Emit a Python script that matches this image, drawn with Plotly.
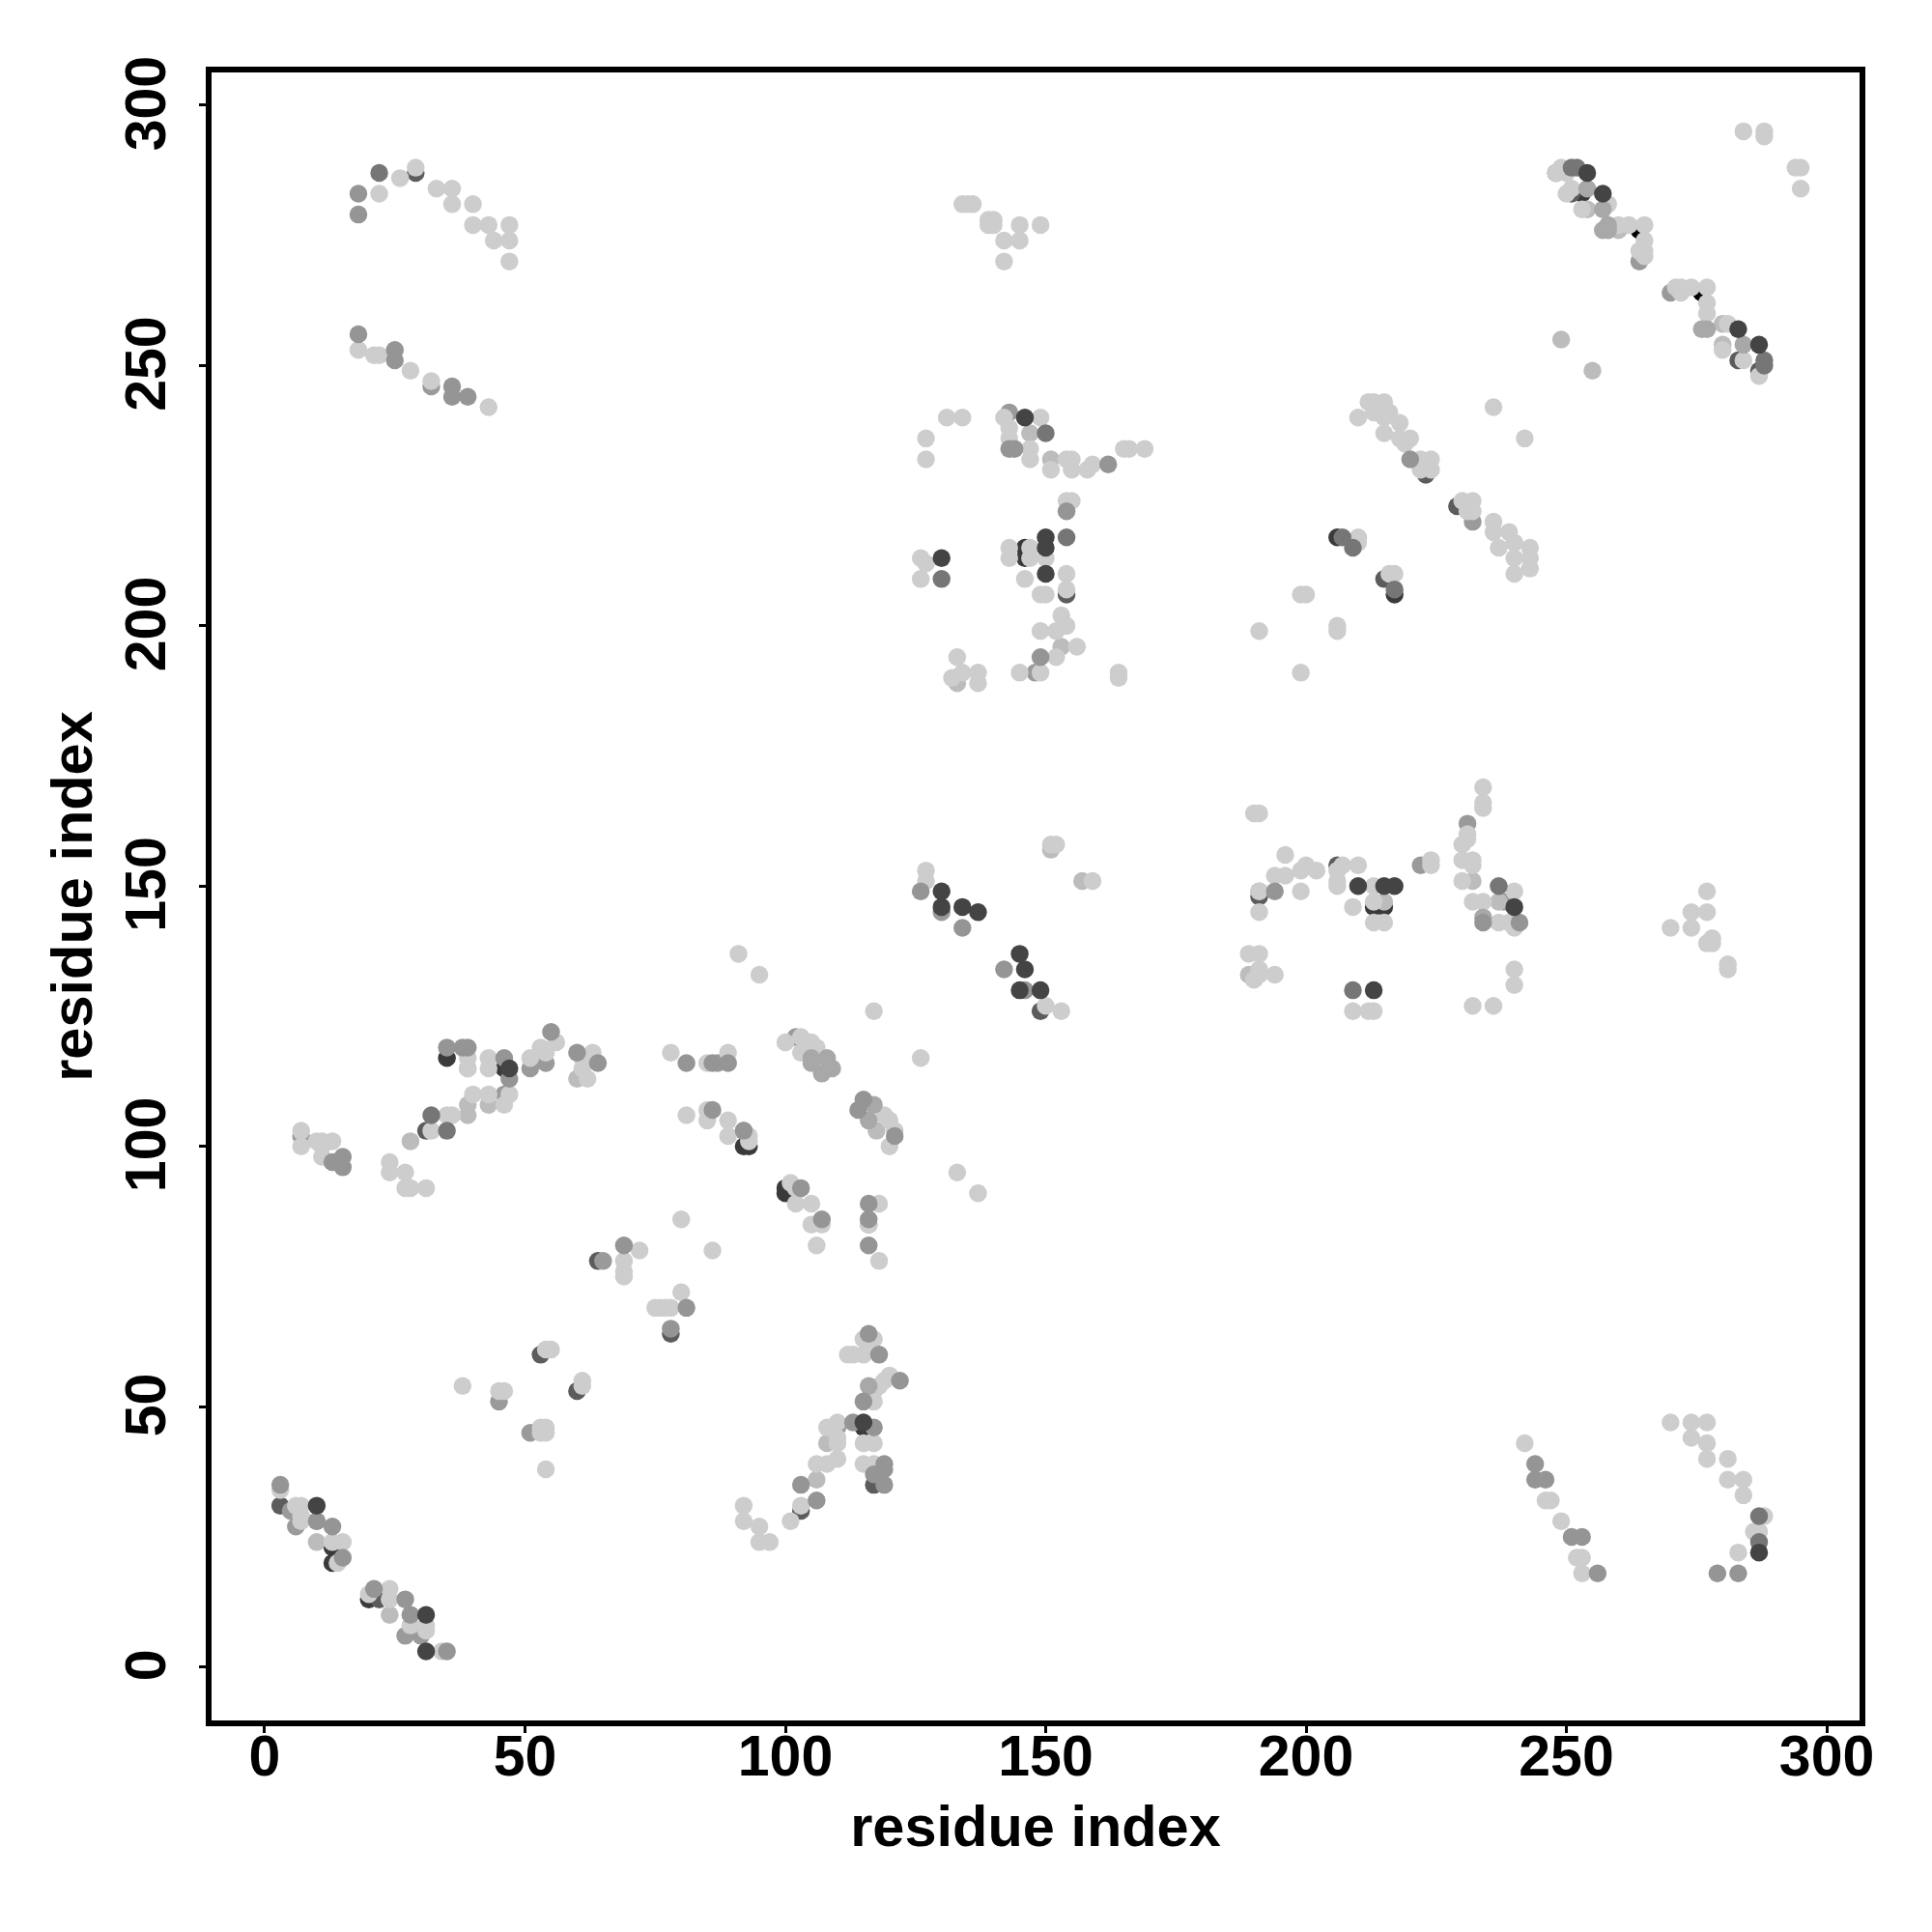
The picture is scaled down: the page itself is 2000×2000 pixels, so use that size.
import plotly.graph_objects as go

tick_values = [0, 50, 100, 150, 200, 250, 300]
axis_label = "residue index"

under_black = [(264,276),(276,264)]
under_dark = [(20,13),(13,20),(13,23),(46,115),(100,91),(146,215),(146,213),(92,100),(93,100),(100,92),(213,146),(215,146),(217,206),(206,217),(35,117),(115,46),(253,283)]
under_grey = [(78,64),(248,287),(251,283),(283,251),(287,249),(154,206),(53,60),(60,53),(64,78),(3,31),(22,13),(206,154),(229,223),(223,229),(191,148),(103,30),(117,35),(149,126),(29,287),(31,103),(215,209)]
under_mid = [(7,102),(6,27),(46,110),(51,115),(54,116),(51,45),(45,51),(65,78),(102,121),(110,46),(143,241),(148,191),(92,103),(232,220),(5,30),(27,6),(30,6),(270,264),(264,270),(222,154),(231,162),(87,116),(191,149),(116,85),(238,147),(130,145),(32,246)]
light_b = [(10,24),(24,10),(39,106),(39,108),(43,108),(60,113),(28,101),(106,36),(108,43),(147,237),(151,232),(153,196),(133,189),(232,151),(237,147),(215,147),(189,133),(151,157),(157,151),(249,255),(255,249),(280,258),(280,254),(254,280),(260,276),(117.5,103),(39,115),(61,114),(105,118),(28,10),(10,28)]
light = [(3,34),(6,31),(7,31),(7,29),(7,28),(13,24),(15,24),(14,20),(20,14),(24,15),(24,13),(28,8),(31,8),(31,7),(34,3),(38,54),(45,53),(46,53),(53,46),(53,45),(54,45),(54,46),(54,61),(55,61),(61,55),(61,54),(54,38),(69,78),(69,76),(69,75),(72,80),(80,72),(75,69),(76,69),(77,69),(78,69),(86,80),(118,78),(80,86),(92,31),(92,28),(95,27),(95,24),(97,24),(101,28),(103,31),(106,39),(108,39),(110,40),(110,44),(110,43),(108,46),(110,47),(115,43),(117,43),(115,39),(117,39),(117,51),(117,53),(118,54),(120,56),(119,55),(112,60),(113,60),(115,60),(115,63),(117,63),(116,62),
(7,103),(7,100),(11,101),(13,101),(10,101),(11,98),(11,100),(24,97),(24,95),(27,95),(27,92),(28,92),(31,92),(32,103),(35,106),(36,106),(40,110),(43,110),(46,108),(47,110),(39,117),(39,115),(43,117),(43,115),(51,117),(54,118),(53,119),(56,120),(61,117),(63,118),(61,115),(62,113),(78,118),(85,116),(89,118),(81,106),(85,107),(85,105),(89,105),(89,102),(93,102),(93,101),(91,137),(95,133),(117,126),(126,117),(100,120),(103,121),(103,118),(105,120),(106,119),(119,106),(120,105),(121,103),(120,100),(101,93),(102,92),(102,89),(105,89),(105,85),(107,85),(106,81),(118,89),(116,85),
(131,240),(134,240),(127,236),(127,232),(142,240),(149,240),(143,238),(143,236),(147,234),(147,232),(151,230),(154,232),(155,232),(155,230),(158,230),(159,231),(165,234),(166,234),(169,234),(154,224),(155,224),(147,215),(143,215),(143,213),(147,213),(150,213),(126,213),(127,212),(126,209),(146,209),(154,210),(149,206),(150,206),(154,207),(149,199),(153,202),(154,200),(152,199),(156,196),(152,194),(145,191),(149,191),(133,194),(132,190),(134,191),(137,191),(137,189),(164,191),(164,190),
(212,243),(213,243),(215,243),(210,240),(213,241),(215,240),(216,241),(215,237),(218,239),(218,236),(220,236),(219,235),(222,232),(224,232),(222,230),(224,230),(236,242),(242,236),(230,224),(232,224),(231,222),(232,222),(236,220),(236,218),(239,218),(237,215),(240,216),(243,215),(243,213),(243,211),(240,210),(240,213),(210,217),(210,216),(216,210),(217,210),(199,206),(200,206),(191,199),(206,200),(206,199),(199,191),
(190,164),(191,164),(196,156),(194,152),(196,152),(199,153),(200,154),(202,153),(199,149),(191,149),(191,145),(207,154),(210,154),(206,150),(206,151),(206,153),(213,150),(209,146),(213,147),(213,143),(215,143),(224,154),(224,155),(234,169),(234,166),(234,165),(231,160),(231,159),(230,158),(230,155),(232,155),(232,154),(230,151),(232,147),(234,147),(240,149),(237,143),(239,143),(240,142),
(277,149),(274,145),(277,145),(270,142),(274,142),(278,140),(277,139),(278,139),(281,135),(281,134),(189,137),(191,137),(190,132),(191,134),(191,133),(194,133),(209,126),(212,126),(213,126),(232,127),(236,127),(240,134),(240,131),
(127,153),(127,151),(150,127),(153,126),(151,158),(152,158),(159,151),(133,95),(137,91),
(22,283),(26,286),(29,288),(33,284),(36,284),(36,281),(40,281),(40,277),(43,277),(44,274),(47,277),(47,274),(47,270),(18,253),(21,252),(22,252),(28,249),(32,247),(43,242),
(134,281),(135,281),(136,281),(139,278),(140,278),(139,277),(140,277),(145,277),(149,277),(145,274),(142,274),(142,270),
(242,43),(246,32),(247,32),(249,28),(252,21),(253,21),(253,18),(270,47),(274,47),(277,47),(274,44),(277,43),(277,40),(281,40),(281,36),(284,36),(284,33),(288,29),(286,26),(287,26),(283,22),
(284,295),(288,295),(288,294),(294,288),(295,288),(295,284),(248,287),(249,288),(250,287),(250,283),(251,284),(258,281),(253,280),(260,277),(262,277),(265,277),(265,274),(265,272),(264,272),(265,271),(271,265),(272,264),(272,265),(274,265),(277,265),(277,262),(277,260),(281,258),(280,253),(284,251),(287,248)]
top_pale = [(105,117),(108,117),(107,114),(109,115),(105,116),(117,108),(116,105),(116,54),(254,284),(257,280),(257,276),(258,276),(258,277),(276,257),(277,257),(284,254),(234,144)]
top_mid = [(3,35),(10,28),(13,27),(15,21),(21,15),(27,13),(28,10),(35,3),(15,98),(15,96),(13,97),(47,113),(64,116),(60,118),(55,122),(69,81),(78,65),(81,69),(81,116),(86,116),(89,116),(35,119),(38,119),(39,119),(46,117),(86,107),(92,103),(103,92),(107,86),(116,89),(116,86),(116,81),(115,109),(114,107),(121,102),(122,55),(118,60),(116,64),(115,51),(119,39),(119,38),(119,35),(117,37),(117,46),(113,47),(103,35),(106,32),(143,234),(144,234),(162,231),(154,222),(149,194),(220,232),(194,149),(234,143),(241,143),(126,149),(134,142),(142,134),(146,130),(18,283),(18,279),(25,253),(25,251),(18,256),(36,246),(36,244),(39,244),(244,39),(244,36),(246,36),(251,25),(253,25),(256,18),(283,18),(279,18)]
top_grey = [(150,237),(154,217),(130,209),(207,217),(209,215),(217,207),(209,130),(237,150),(35,103),(32,106),(22,287),(287,29),(287,24),(251,288),(252,288),(288,250),(288,251)]
top_dark = [(10,31),(31,10),(31,3),(47,115),(115,47),(150,217),(150,215),(130,213),(150,210),(146,240),(210,150),(215,150),(217,150),(213,130),(240,146),(130,149),(130,146),(134,146),(137,145),(145,137),(146,134),(145,130),(149,130),(254,287),(257,283),(283,257),(287,254),(287,22)]

layers = [
    (under_black, "#000000"),
    (under_dark, "#3a3a3a"),
    (under_grey, "#5c5c5c"),
    (under_mid, "#9a9a9a"),
    (light_b, "#bcbcbc"),
    (light, "#cdcdcd"),
    (top_pale, "#a8a8a8"),
    (top_mid, "#959595"),
    (top_grey, "#767676"),
    (top_dark, "#444444"),
]

fig = go.Figure()
for points, colour in layers:
    fig.add_trace(go.Scatter(
        x=[p[0] for p in points], y=[p[1] for p in points],
        mode="markers", showlegend=False,
        marker=dict(size=18.5, color=colour, line=dict(width=0)),
    ))

axis_style = dict(
    tickmode="array", tickvals=tick_values, ticktext=[str(v) for v in tick_values],
    showgrid=False, zeroline=False, showline=True, mirror=True,
    linecolor="black", linewidth=6,
    ticks="outside", ticklen=7, tickwidth=3, tickcolor="black",
    tickfont=dict(family="Liberation Sans", size=59, color="black", weight="bold"),
    automargin=False,
)
title_font = dict(family="Liberation Sans", size=59.5, color="black", weight="bold")
fig.update_layout(
    width=2000, height=2000, paper_bgcolor="white", plot_bgcolor="white",
    margin=dict(l=219, r=75, t=75, b=219, autoexpand=False),
    xaxis=dict(axis_style, range=[-10.2, 306.3], ticklabelstandoff=-27,
               title=dict(text=axis_label, font=title_font, standoff=22)),
    yaxis=dict(axis_style, range=[-10.26, 306.3], tickangle=-90, ticklabelstandoff=11,
               ticklabelshift=7,
               title=dict(text=axis_label, font=title_font, standoff=6)),
)
fig.write_html("out.html", config={"displayModeBar": False},
               post_script="document.body.style.margin='0';")
